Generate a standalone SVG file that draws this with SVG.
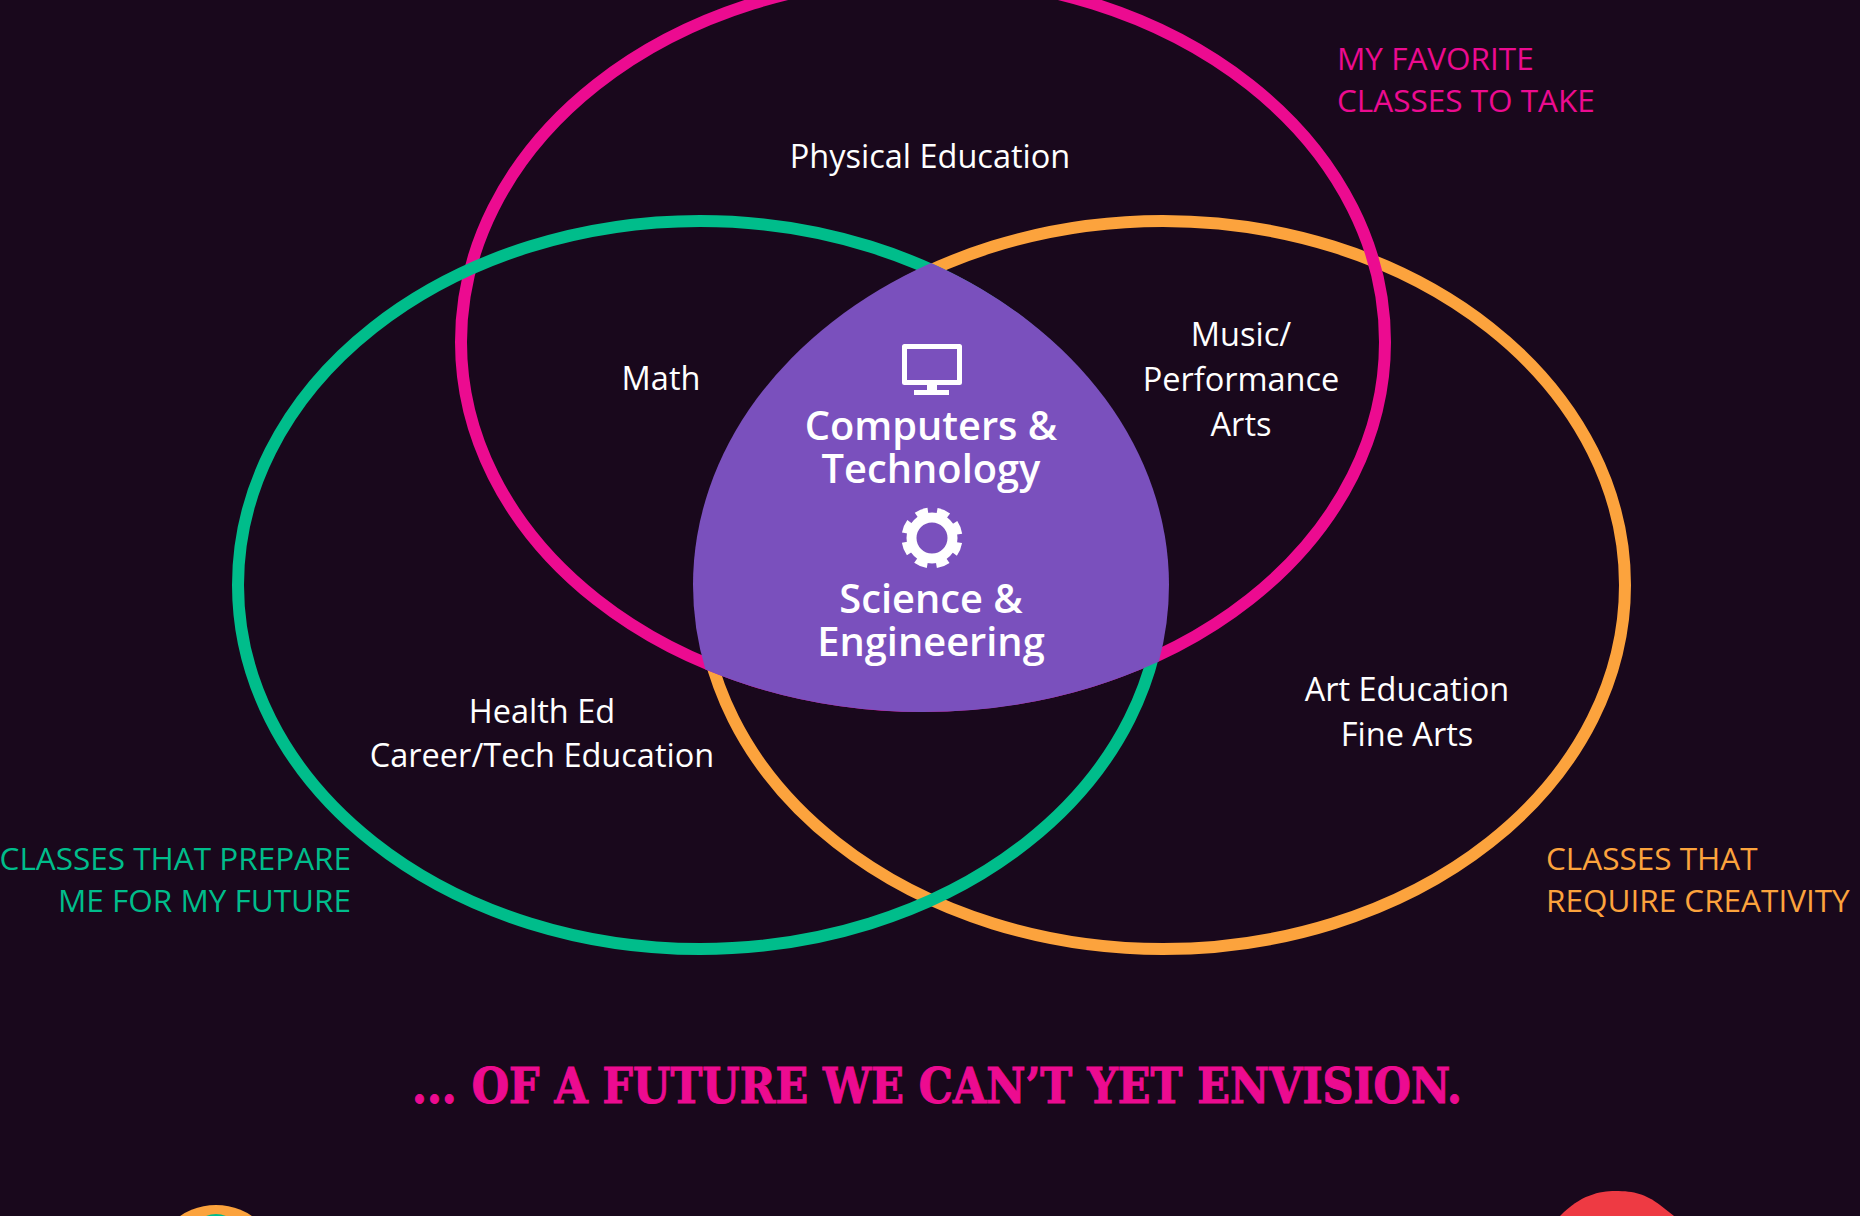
<svg xmlns="http://www.w3.org/2000/svg" width="1860" height="1216" viewBox="0 0 1860 1216">
<style>
.ring{fill:none;stroke-width:12}
.t{font-family:"Open Sans","Noto Sans",sans-serif;font-size:32.5px;fill:#fff;text-anchor:middle}
.b{font-family:"Open Sans","Noto Sans",sans-serif;font-weight:600;font-size:39.8px;fill:#fff;text-anchor:middle}
.c{font-family:"Open Sans","Noto Sans",sans-serif;font-size:31.5px}
</style>
<defs>
<clipPath id="cp"><ellipse cx="923" cy="342" rx="468" ry="370"/></clipPath>
<clipPath id="cg" clip-path="url(#cp)"><ellipse cx="700" cy="585" rx="469" ry="370"/></clipPath>
<clipPath id="co" clip-path="url(#cg)"><ellipse cx="1162" cy="585" rx="469" ry="370"/></clipPath>
</defs>
<rect width="1860" height="1216" fill="#19081c"/>
<g id="connectors">
<ellipse id="ring-orange" class="ring" cx="1163" cy="585" rx="462" ry="364" stroke="#fca33d"/>
<ellipse id="ring-pink" class="ring" cx="923" cy="342" rx="462" ry="364" stroke="#ec0b90"/>
<ellipse id="ring-green" class="ring" cx="700" cy="585" rx="462" ry="364" stroke="#00bd8b"/>
</g>
<g id="center">
<rect x="680" y="250" width="500" height="480" fill="#7a50bd" clip-path="url(#co)"/>
<path fill="none" stroke="#fff" stroke-width="5" stroke-linejoin="round" d="M904.500 346.500H959.500V382.500H904.500Z"/>
<path fill="#fff" d="M927 385H937V390H927ZM914 390H949V395H914Z"/>
<circle cx="932" cy="538" r="20.500" fill="none" stroke="#fff" stroke-width="10"/>
<circle cx="932" cy="538" r="27" fill="none" stroke="#fff" stroke-width="7" stroke-dasharray="12 9.206" stroke-dashoffset="-4.600"/>
<text class="b" x="931" y="440">Computers &amp;</text>
<text class="b" x="931" y="483">Technology</text>
<text class="b" x="931" y="613">Science &amp;</text>
<text class="b" x="931" y="656">Engineering</text>
</g>
<g id="labels">
<text class="t" x="930" y="168">Physical Education</text>
<text class="t" x="661" y="390">Math</text>
<text class="t" x="1241" y="346">Music/</text>
<text class="t" x="1241" y="391">Performance</text>
<text class="t" x="1241" y="436">Arts</text>
<text class="t" x="542" y="723">Health Ed</text>
<text class="t" x="542" y="767">Career/Tech Education</text>
<text class="t" x="1407" y="701">Art Education</text>
<text class="t" x="1407" y="746">Fine Arts</text>
<text class="c" fill="#ec0b90" x="1337" y="70">MY FAVORITE</text>
<text class="c" fill="#ec0b90" x="1337" y="112">CLASSES TO TAKE</text>
<text class="c" fill="#00bd8b" x="351" y="870" text-anchor="end">CLASSES THAT PREPARE</text>
<text class="c" fill="#00bd8b" x="351" y="912" text-anchor="end">ME FOR MY FUTURE</text>
<text class="c" fill="#fca33d" x="1546" y="870">CLASSES THAT</text>
<text class="c" fill="#fca33d" x="1546" y="912">REQUIRE CREATIVITY</text>
</g>
<text id="headline" x="412" y="1103" textLength="1050" lengthAdjust="spacingAndGlyphs" font-family="'DejaVu Serif Condensed','DejaVu Serif',serif" font-weight="700" font-size="48" fill="#ec0b90" stroke="#ec0b90" stroke-width="1">... OF A FUTURE WE CAN’T YET ENVISION.</text>
<g id="bottom">
<circle cx="216" cy="1269" r="64" fill="#fca33d"/>
<circle cx="216" cy="1240" r="26" fill="#00bd8b"/>
<path fill="#ee3a43" d="M1560 1216C1580 1195 1600 1191 1615 1191C1635 1191 1645 1194 1660 1205L1674 1216Z"/>
</g>
</svg>
